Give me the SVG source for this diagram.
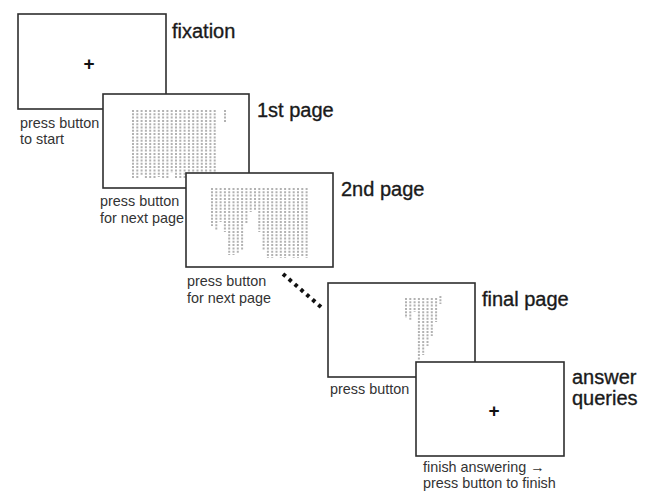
<svg xmlns="http://www.w3.org/2000/svg" width="652" height="493" viewBox="0 0 652 493">
  <style>
    .screen { fill: #ffffff; stroke: #2e2e2e; stroke-width: 1.6; }
    .title { font-family: "Liberation Sans", Arial, sans-serif; font-size: 20px; fill: #1a1a1a; stroke: #1a1a1a; stroke-width: 0.35; }
    .note { font-family: "Liberation Sans", Arial, sans-serif; font-size: 14.4px; fill: #333333; }
    .cross { font-family: "Liberation Sans", Arial, sans-serif; font-size: 19px; font-weight: bold; fill: #111111; text-anchor: middle; }
    .col { stroke: #b2b2b2; stroke-width: 2; stroke-dasharray: 2 1.3; fill: none; }
    .dots { stroke: #111111; stroke-width: 4; stroke-dasharray: 3.5 4.3; fill: none; }
  </style>
  <rect width="652" height="493" fill="#ffffff"/>

  <!-- fixation screen -->
  <g id="fixation">
    <rect class="screen" x="18" y="14" width="148" height="95"/>
    <text class="cross" x="89" y="69.5">+</text>
    <text class="title" x="172" y="38">fixation</text>
    <text class="note" x="20" y="128">press button</text>
    <text class="note" x="20" y="144">to start</text>
  </g>

  <!-- first text page -->
  <g id="page1">
    <rect class="screen" x="103" y="94" width="146" height="94"/>
    <g class="col">
      <path d="M133 110V178M137.3 110V179M141.6 110V176M145.9 110V179M150.2 110V178M154.5 110V179M158.8 110V177M163.1 110V179M167.4 110V178M171.7 110V173M176 110V179M180.3 110V178M184.6 110V179M188.9 110V176M193.2 110V179M197.5 110V178M201.8 110V179M206.1 110V177M210.4 110V179M214.7 110V178"/>
      <path d="M225 110V123"/>
    </g>
    <text class="title" x="257" y="117">1st page</text>
    <text class="note" x="100" y="206">press button</text>
    <text class="note" x="100" y="223">for next page</text>
  </g>

  <!-- second text page -->
  <g id="page2">
    <rect class="screen" x="186" y="173" width="147" height="94"/>
    <g class="col">
      <path d="M212 188V226M216.3 188V230M220.6 188V222M224.9 188V232M229.2 188V255M233.5 188V255M237.8 188V254M242.1 188V250M246.4 188V224M250.7 188V212M255 188V210M259.3 188V232M263.6 188V250M267.9 188V258M272.2 188V258M276.5 188V257M280.8 188V258M285.1 188V258M289.4 188V256M293.7 188V258M298 188V258M302.3 188V257M306.6 188V258"/>
    </g>
    <text class="title" x="341" y="196">2nd page</text>
    <text class="note" x="187" y="286">press button</text>
    <text class="note" x="187" y="303">for next page</text>
  </g>

  <!-- ellipsis between pages -->
  <g id="connectors">
    <path class="dots" d="M283 274L321 307"/>
  </g>

  <!-- last text page -->
  <g id="page-final">
    <rect class="screen" x="328" y="283" width="147" height="94"/>
    <g class="col">
      <path d="M406 298V318M410.3 298V320M414.6 298V312M418.9 298V360M423.2 298V355M427.5 298V346M431.8 298V336M436.1 298V322"/>
      <path d="M440.4 296V304"/>
    </g>
    <text class="title" x="482" y="306">final page</text>
    <text class="note" x="330" y="394">press button</text>
  </g>

  <!-- question screen -->
  <g id="answer">
    <rect class="screen" x="416" y="362" width="148" height="94"/>
    <text class="cross" x="494" y="416.5">+</text>
    <text class="title" x="572" y="384">answer</text>
    <text class="title" x="572" y="405">queries</text>
    <text class="note" x="423" y="472">finish answering →</text>
    <text class="note" x="423" y="488">press button to finish</text>
  </g>
</svg>
